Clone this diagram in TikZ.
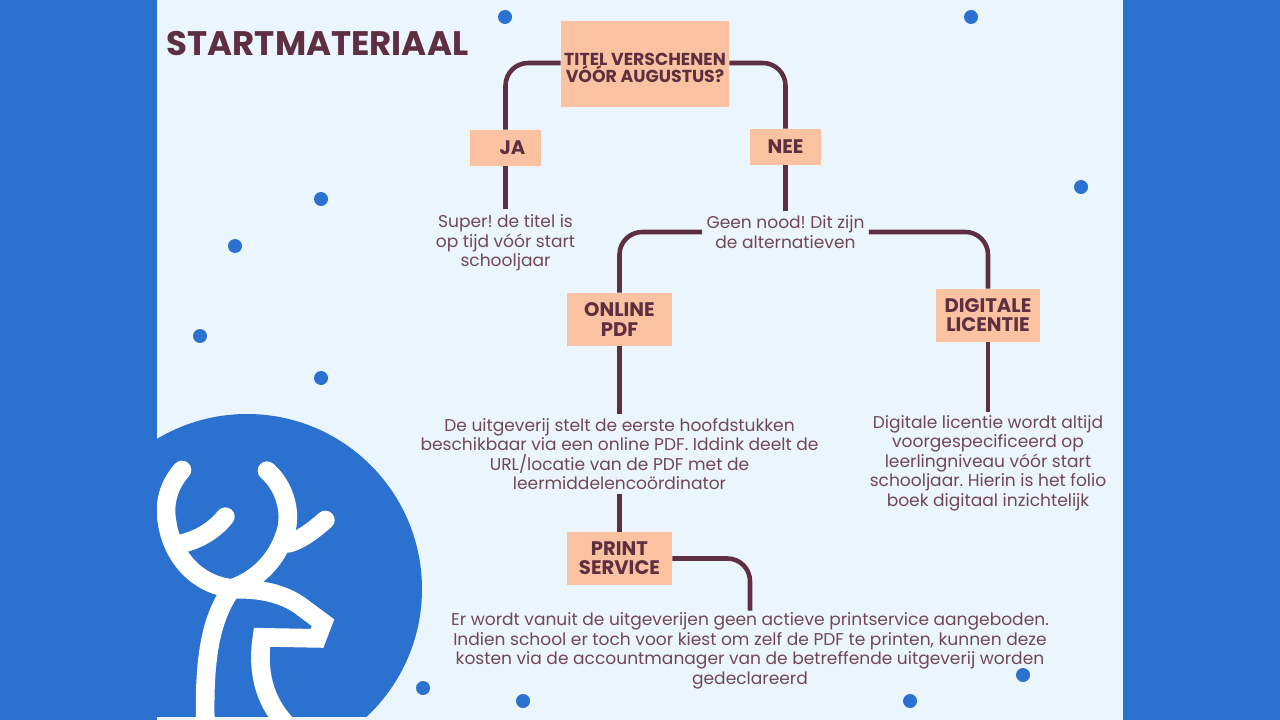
\documentclass[tikz,border=0pt]{standalone}
\usepackage{fontspec}
\setmainfont{Poppins}
\definecolor{outerblue}{HTML}{2A71D0}
\definecolor{panelbg}{HTML}{EBF5FE}
\definecolor{peach}{HTML}{FBC2A1}
\definecolor{plum}{HTML}{5E2F40}
\tikzset{
  flowbox/.style={fill=peach,draw=none,inner sep=0pt,align=center,text=plum,font=\fontsize{14.7}{14.3}\selectfont\bfseries},
  bodytext/.style={inner sep=0pt,align=center,text=plum!88!white,font=\fontsize{12.8}{14.6}\selectfont\frenchspacing},
  conn/.style={draw=plum,line width=3.4pt,rounded corners=17pt},
  straightconn/.style={draw=plum,line width=3.4pt},
  bluedot/.style={fill=outerblue,draw=none,circle,minimum size=10.5pt,inner sep=0pt},
  antler/.style={draw=white,line width=14pt,line cap=round,line join=miter}
}
\begin{document}
\begin{tikzpicture}[x=0.75pt,y=-0.75pt]
\useasboundingbox (0,0) rectangle (1280,720);
\fill[outerblue] (0,0) rectangle (1280,720);
\fill[panelbg] (157,0) rectangle (1123,720);
% logo
\begin{scope}
  \clip (157,0) rectangle (1123,716);
  \fill[outerblue] (247,589) circle[radius=175];
  \fill[outerblue] (157,500) rectangle (300,720);
\end{scope}
\begin{scope}
  \clip (157,400) rectangle (430,720);
  \begin{scope}[shift={(157,400)},x=0.25pt,y=-0.25pt]
    \draw[antler] (75,210) .. controls (35,255) and (20,310) .. (30,365) .. controls (45,470) and (120,555) .. (225,565);
    \draw[antler] (330,212) .. controls (385,260) and (405,340) .. (385,400) .. controls (360,480) and (300,540) .. (225,565) .. controls (165,650) and (140,760) .. (145,970);
    \draw[antler] (205,350) .. controls (165,400) and (110,425) .. (55,435);
    \draw[antler] (505,360) .. controls (465,395) and (430,420) .. (395,430);
    \draw[antler,line cap=butt] (230,568) .. controls (320,565) and (390,585) .. (440,625) -- (498,668) -- (480,715) -- (315,712) .. controls (300,810) and (320,900) .. (385,970);
  \end{scope}
\end{scope}
% dots
\foreach \i/\px/\py in {1/505/17,2/971/17,3/321/199,4/1081/187,5/235/246,6/200/336,7/321/378,8/423/688,9/523/701,10/910/701,11/1023/675}
  \node[bluedot] (dot\i) at (\px,\py) {};
% heading
\node[inner sep=0pt,text=plum,font=\fontsize{25.5}{28}\selectfont\bfseries] (heading) at (317.5,44) {STARTMATERIAAL};
% boxes
\node[flowbox,minimum width=126pt,minimum height=64.5pt,font=\fontsize{13}{10.7}\selectfont\bfseries] (titel) at (645,64) {\rule{0pt}{15pt}TITEL VERSCHENEN\\[-1pt]VÓÓR AUGUSTUS?};
\node[flowbox,minimum width=53pt,minimum height=27pt] (ja) at (505.5,148) {\hspace*{10.5pt}JA};
\node[flowbox,minimum width=53pt,minimum height=27pt] (nee) at (785.5,147) {NEE};
\node[flowbox,minimum width=79pt,minimum height=40pt] (online) at (619.5,319.5) {ONLINE\\PDF};
\node[flowbox,minimum width=78pt,minimum height=40pt] (digitaal) at (988,315.5) {DIGITALE\\LICENTIE};
\node[flowbox,minimum width=79pt,minimum height=40pt] (print) at (619.5,558.5) {PRINT\\SERVICE};
% texts
\node[bodytext] (jatxt) at (505.5,243) {Super! de titel is\\op tijd vóór start\\schooljaar};
\node[bodytext] (geen) at (785.5,232) {Geen nood! Dit zijn\\de alternatieven};
\node[bodytext] (pdftxt) at (619.5,454) {De uitgeverij stelt de eerste hoofdstukken\\beschikbaar via een online PDF. Iddink deelt de\\URL/locatie van de PDF met de\\leermiddelencoördinator};
\node[bodytext] (digtxt) at (988,463) {Digitale licentie wordt altijd\\voorgespecificeerd op\\leerlingniveau vóór start\\schooljaar. Hierin is het folio\\boek digitaal inzichtelijk};
\node[bodytext] (printtxt) at (750,651) {Er wordt vanuit de uitgeverijen geen actieve printservice aangeboden.\\Indien school er toch voor kiest om zelf de PDF te printen, kunnen deze\\kosten via de accountmanager van de betreffende uitgeverij worden\\gedeclareerd};
% connectors
\draw[conn] (titel.west |- 0,63) -| (ja.north);
\draw[conn] (titel.east |- 0,63) -| (nee.north);
\draw[straightconn,shorten >=4.5pt] (ja.south) -- (jatxt.north);
\draw[straightconn,shorten >=3pt] (nee.south) -- (geen.north);
\draw[conn,shorten <=3pt] (geen.west) -| (online.north);
\draw[conn,shorten <=3pt] (geen.east) -| (digitaal.north);
\draw[straightconn,shorten >=3pt] (online.south) -- (pdftxt.north);
\draw[straightconn,shorten >=2pt] (digitaal.south) -- (digtxt.north);
\draw[straightconn,shorten <=3pt] (pdftxt.south) -- (print.north);
\draw[conn,shorten >=1.5pt] (print.east) -| (printtxt.north);
\end{tikzpicture}
\end{document}
